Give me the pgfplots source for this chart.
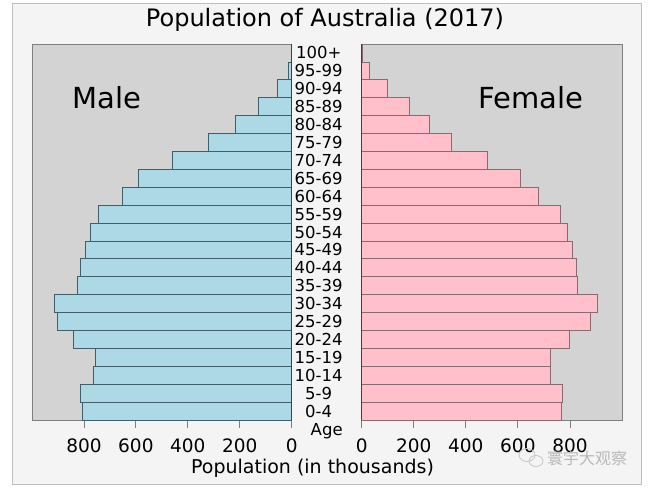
\documentclass[border=0pt]{standalone}
\usepackage{pgfplots}
\pgfplotsset{compat=1.18}
\usepackage{fontspec}
\setmainfont{DejaVu Sans}
\newfontfamily\cjk{Noto Sans CJK SC}
\definecolor{figbg}{HTML}{F4F4F4}
\definecolor{figborder}{HTML}{BEBEBE}
\definecolor{axbg}{HTML}{D3D3D3}
\definecolor{maleblue}{HTML}{ADD8E6}
\definecolor{femalepink}{HTML}{FFC0CB}
\definecolor{maleedge}{HTML}{3F5F6A}
\definecolor{femaleedge}{HTML}{8A6A70}
\definecolor{spine}{HTML}{7F7F7F}

% index (0 = 0-4 ... 20 = 100+), value in thousands
\pgfplotstableread{
idx male female
0  806 766
1  813 771
2  764 726
3  755 724
4  840 798
5  901 878
6  912 906
7  826 828
8  813 824
9  794 810
10 777 789
11 743 764
12 653 680
13 589 610
14 461 483
15 320 346
16 218 260
17 128 183
18 55  99
19 13  29
20 2   4
}\popdata

\begin{document}
\begin{tikzpicture}
\fill[white] (0bp,0bp) rectangle (650bp,488bp);
\filldraw[fill=figbg,draw=figborder,line width=1bp] (12bp,3bp) rectangle (641bp,484bp);

\pgfplotsset{
  pyr/.style={
    scale only axis,
    height=376bp,
    xbar, bar width=1, bar shift=0pt,
    ymin=-0.5, ymax=20.5,
    xmin=0, xmax=1000,
    axis background/.style={fill=axbg},
    axis line style={draw=spine, line width=0.8bp},
    xtick={0,200,400,600,800},
    xtick pos=bottom,
    tick align=outside,
    major tick length=8bp,
    every tick/.style={draw=spine, line width=0.8bp},
    ytick=\empty,
    /pgf/number format/assume math mode=true,
    xticklabel style={font=\fontsize{18.5bp}{20bp}\selectfont, inner sep=2bp, yshift=-9bp},
    clip=false,
  }
}

\begin{axis}[pyr, at={(291.7bp,68bp)}, anchor=south east, width=259.7bp, x dir=reverse]
\addplot[fill=maleblue, draw=maleedge, line width=0.8bp] table[x=male,y=idx]{\popdata};
\end{axis}

\begin{axis}[pyr, at={(361.7bp,68bp)}, anchor=south west, width=260.3bp,
  ytick={0,...,20},
  yticklabels={0-4,5-9,10-14,15-19,20-24,25-29,30-34,35-39,40-44,45-49,50-54,55-59,60-64,65-69,70-74,75-79,80-84,85-89,90-94,95-99,100+},
  yticklabel style={font=\fontsize{16.5bp}{17bp}\selectfont, anchor=center, xshift=-35bp, yshift=0pt},
  major y tick style={draw=none},
]
\addplot[fill=femalepink, draw=femaleedge, line width=0.8bp] table[x=female,y=idx]{\popdata};
\end{axis}

\draw[black!75, line width=1bp] (291.7bp,68bp) -- (291.7bp,444bp);
\draw[black!75, line width=1bp] (361.7bp,68bp) -- (361.7bp,444bp);

\node[font=\fontsize{16.5bp}{17bp}\selectfont] at (326.7bp,57bp) {Age};
\node[font=\fontsize{24bp}{26bp}\selectfont] at (325bp,468bp) {Population of Australia (2017)};
\node[font=\fontsize{19bp}{20bp}\selectfont] at (312.5bp,20bp) {Population (in thousands)};
\node[font=\fontsize{29bp}{30bp}\selectfont] at (107bp,390bp) {Male};
\node[font=\fontsize{29bp}{30bp}\selectfont] at (530.5bp,390bp) {Female};

% watermark
\draw[gray!45, line width=0.8bp] (527bp,33bp) ellipse (8bp and 6.5bp);
\draw[gray!45, line width=0.8bp] (536bp,27bp) ellipse (7bp and 5.5bp);
\node[font=\cjk\fontsize{16bp}{17bp}\selectfont, text=gray!55, anchor=west, inner sep=0pt] at (547bp,30bp) {寰宇大观察};
\end{tikzpicture}
\end{document}
